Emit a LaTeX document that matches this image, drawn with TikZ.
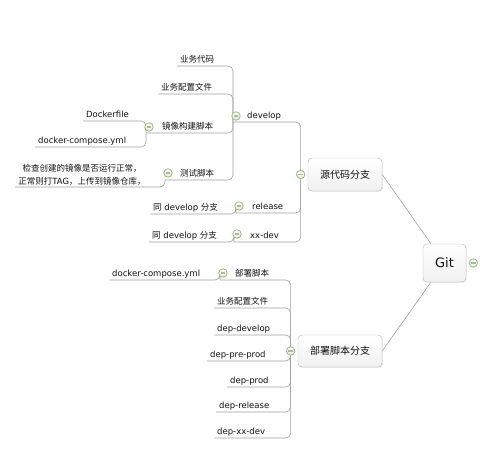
\documentclass[tikz,border=0pt]{standalone}
\usepackage{fontspec}
\setmainfont{DejaVu Sans}
\newfontfamily\cjk{Noto Sans CJK SC}
\usetikzlibrary{positioning,shadows,backgrounds}
\definecolor{linegray}{HTML}{A0A0A0}
\definecolor{boxline}{HTML}{B4B4B4}
\definecolor{foldgreen}{HTML}{8DC26F}
\definecolor{inkblack}{HTML}{111111}
\tikzset{
  link/.style={draw=linegray, line width=0.6pt, rounded corners=5pt},
  itembase/.style={inner xsep=3pt, inner ysep=1.5pt, text=inkblack,
    font=\fontsize{8.5}{10}\selectfont},
  item/.style={itembase, anchor=south west, text height=7pt, text depth=2pt},
  note/.style={itembase, anchor=south, align=center,
    font=\cjk\fontsize{8.5}{13}\selectfont},
  branch/.style={draw=boxline, rounded corners=4pt, top color=white,
    bottom color=gray!12, minimum height=33pt, text=inkblack,
    font=\cjk\fontsize{10}{12}\selectfont,
    drop shadow={opacity=0.15, shadow xshift=0.8pt, shadow yshift=-0.8pt}},
  fold/.style={circle, draw=foldgreen, line width=0.8pt, inner sep=0pt,
    minimum size=8.5pt, top color=white, bottom color=gray!20,
    path picture={\draw[gray!60, line width=1.1pt]
      ([xshift=-2.2pt]path picture bounding box.center) --
      ([xshift=2.2pt]path picture bounding box.center);}}
}

\begin{document}
\begin{tikzpicture}[x=1pt,y=-1pt]
\useasboundingbox (0,0) rectangle (497,460);

\node[branch, minimum width=43pt, minimum height=38pt,
  font=\fontsize{13}{15}\selectfont] (Git) at (444.5,263) {Git};
\node[fold, right=2.5pt of Git] (fGit) {};
\node[branch, minimum width=74pt] (Src) at (345,174.5) {源代码分支};
\node[fold, left=2.5pt of Src] (fSrc) {};
\node[branch, minimum width=84pt, minimum height=32pt] (Dep) at (340,351) {部署脚本分支};
\node[fold, left=2.5pt of Dep] (fDep) {};

\begin{scope}[every node/.style={item}]
\node (Dev) at (244,122) {develop};
\node (Rel) at (249,213) {release};
\node (XX) at (247,242) {xx-dev};
\node (Rel1) at (150,214) {{\cjk 同} develop {\cjk 分支}};
\node (XX1) at (149,242) {{\cjk 同} develop {\cjk 分支}};
\node (Dv1) at (177,66) {\cjk 业务代码};
\node (Dv2) at (158,94) {\cjk 业务配置文件};
\node (Dv3) at (159,133) {\cjk 镜像构建脚本};
\node (Dv4) at (177,180) {\cjk 测试脚本};
\node (Df) at (83,121) {Dockerfile};
\node (Dc) at (35,147) {docker-compose.yml};
\node (Dp1) at (232,280) {\cjk 部署脚本};
\node (Dp1c) at (109,280) {docker-compose.yml};
\node (Dp2) at (214,308) {\cjk 业务配置文件};
\node (Dp3) at (214,335) {dep-develop};
\node (Dp4) at (207,361) {dep-pre-prod};
\node (Dp5) at (227,387) {dep-prod};
\node (Dp6) at (216,412) {dep-release};
\node (Dp7) at (214,438) {dep-xx-dev};
\end{scope}
\node[note] (Chk) at (82,187) {检查创建的镜像是否运行正常，\\正常则打{\rmfamily TAG}，上传到镜像仓库，};

\coordinate (jDev) at (233,122);
\coordinate (jRel) at (236,213);
\coordinate (jXX) at (234,242);
\coordinate (jDv3) at (146,133);
\coordinate (jDv4) at (165,180);
\coordinate (jDp1) at (220,280);
\node[fold] (fDev) at (236,116) {};
\node[fold] (fRel) at (239,206) {};
\node[fold] (fXX) at (237,234) {};
\node[fold] (fDv3) at (149,127) {};
\node[fold] (fDv4) at (168,173) {};
\node[fold] (fDp1) at (223,273) {};

\begin{pgfonlayer}{background}
\draw[link] (Git) -- (Src.east);
\draw[link] (Git) -- (Dep.east);
\draw[link] (jDev) -| (fSrc.center);
\draw[link] (jRel) -| (fSrc.center);
\draw[link] (jXX) -| (fSrc.center);
\draw[link] (Dv1.south west) -| (jDev);
\draw[link] (Dv2.south west) -| (jDev);
\draw[link] (jDv3) -| (jDev);
\draw[link] (jDv4) -| (jDev);
\draw[link] (Df.south west) -| (jDv3);
\draw[link] (Dc.south west) -| (jDv3);
\draw[link] (Chk.south west) -| (jDv4);
\draw[link] (Rel1.south west) -| (jRel);
\draw[link] (XX1.south west) -| (jXX);
\draw[link] (jDp1) -| (fDep.center);
\draw[link] (Dp1c.south west) -| (jDp1);
\foreach \n in {Dp2,Dp3,Dp4,Dp5,Dp6,Dp7}
  \draw[link] (\n.south west) -| (fDep.center);
\end{pgfonlayer}
\end{tikzpicture}
\end{document}
